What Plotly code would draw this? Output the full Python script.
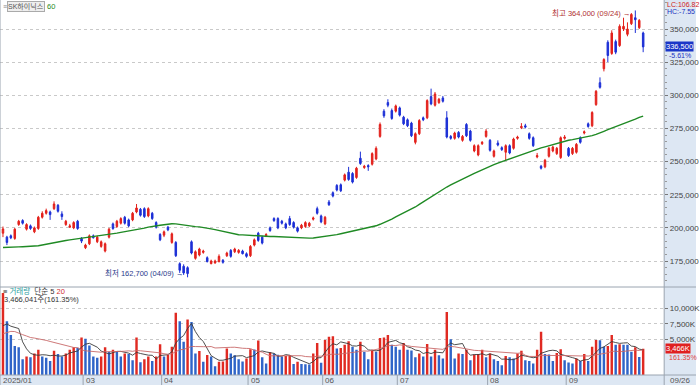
import plotly.graph_objects as go
import pandas as pd

W, H = 700, 385

holidays = ["2025-03-03", "2025-05-01", "2025-05-05", "2025-05-06",
            "2025-06-03", "2025-06-06", "2025-08-15"]
dates = [d.strftime("%Y-%m-%d") for d in pd.bdate_range("2025-01-31", "2025-09-26")
         if d.strftime("%Y-%m-%d") not in holidays]

opens = [196000,193000,194000,192000,202500,205500,199000,201500,197000,199500,
         208000,211000,212000,214500,217000,210500,202500,200500,200000,205000,
         192000,185000,188000,194000,189500,186000,182500,193000,203000,201000,
         203500,208000,206000,206000,212000,214000,214500,209000,211000,204000,
         195000,194500,200500,189000,189000,173000,171000,170000,189500,177000,
         179500,181500,177500,173000,173500,174500,175500,179000,183000,182000,
         181500,182500,180500,179000,187000,196000,193000,194000,200000,207000,
         207000,205000,203000,207000,204000,200000,200000,201000,201500,206500,
         214500,209000,203000,219500,226500,232000,232500,236000,242000,241000,
         238000,252500,245500,247000,248000,252000,269000,288000,294500,288500,
         288000,290500,283500,281500,279000,264500,271000,283000,283000,299000,
         292500,294500,298000,283000,269000,267500,272000,266000,278000,273000,
         258000,255000,263500,269000,266000,254000,264000,260500,257000,262000,
         260000,267500,275500,277000,271000,268000,253500,246500,246000,254000,
         258000,256000,253000,267500,260000,256000,257000,268000,271500,278500,
         277000,293000,309500,320000,340000,331500,340500,337500,350000,346000,
         354000,358500,351000,347000]
highs = [201000,194000,195000,200000,206000,206500,203500,202500,201000,209000,
         212500,214500,213000,220000,218000,212500,206000,203000,205000,206000,
         193000,188000,195000,195000,194000,190500,189000,200000,204000,206000,
         208000,209000,207000,212000,218000,215000,215500,215500,212000,205000,
         196000,198000,201500,196500,190000,174000,172500,171000,190500,183000,
         185000,183500,178500,176000,176000,180000,176500,182000,184000,185000,
         184000,183500,181500,187000,192000,197000,194000,196000,201000,208000,
         208000,206000,204000,209000,205000,201000,203000,205000,204500,208500,
         216000,210000,209000,221000,227500,233000,233500,241000,246000,242000,
         246000,257500,247500,248000,257000,261500,279500,289500,297000,290000,
         293000,291500,284500,282500,280000,272000,282000,284000,297000,305000,
         302500,298000,299500,288000,270000,272500,273000,270000,279000,274000,
         263000,263000,265500,274500,267000,259000,266000,261500,263000,263000,
         268000,269500,279000,278500,272000,269000,256500,247500,252000,261000,
         262000,261000,269000,270000,261000,261000,264000,269000,273500,279500,
         288000,304000,313500,328000,341500,349000,342000,353500,358500,355000,
         362000,364000,357500,348000]
lows = [193000,187000,191500,191000,201500,202500,198000,198500,196000,198500,
        207000,210000,206000,213500,211500,206000,201500,200000,199000,198500,
        188500,184000,187000,192000,188500,185000,181500,192000,198500,200000,
        202500,202500,200500,205000,211000,208500,207500,208000,206000,199500,
        190000,193000,197500,188000,178000,166000,164500,162700,180000,176000,
        178500,180500,174000,172500,173000,174000,173000,178000,177500,181000,
        180500,180000,177500,178000,186000,189500,187500,193000,197000,204500,
        199000,202500,199000,201500,199500,196500,199000,200000,200500,205500,
        210000,203500,202000,216500,223000,227500,227000,235000,235500,233500,
        237000,247500,244500,243000,247000,251000,268000,283000,291000,281500,
        287000,284000,277500,276000,268500,263000,270000,280500,282000,292500,
        291500,293500,294500,267500,266500,266500,267500,265000,268500,265000,
        257000,254000,262500,268000,257500,253000,261500,258000,251000,255500,
        259000,266500,274500,275000,266500,261000,252500,244000,245000,253000,
        257000,255000,252000,266500,253500,255000,256000,263500,270500,275500,
        276000,292000,305000,318000,325000,330500,331000,336500,348500,344500,
        353000,347000,350000,332500]
closes = [199200,189000,192500,199000,205000,203500,202500,199500,200000,208000,
          211000,213000,210000,218000,212500,208500,205000,201500,204000,199500,
          190000,187000,194000,192500,193000,189500,188000,199000,199500,205000,
          207000,203500,201500,211000,215000,209500,208500,214500,207000,200500,
          191000,197000,198500,195500,179000,168000,166000,165500,181000,182000,
          184000,182500,174500,175000,175000,178500,174000,181000,178500,184000,
          183000,180500,178500,186000,191000,190500,188500,195000,198000,205500,
          200000,203500,200000,202500,200500,197500,202000,204000,203500,207500,
          211000,204500,208000,217500,224000,228500,228000,240000,236500,234500,
          245000,248500,246500,246000,256000,260000,278000,284500,292500,282500,
          292000,285000,278500,277000,269500,271000,281000,281500,296000,293500,
          301000,297000,295500,268500,267500,271500,268500,269000,269500,266000,
          262000,262000,264500,273000,258500,258000,262500,259000,262000,256500,
          267000,268500,276500,276000,267500,262000,254500,245000,251000,260000,
          261000,260000,268000,268500,254500,260000,263000,264500,272500,276500,
          287000,303000,306000,327000,330000,347000,332500,352000,352000,350000,
          361000,357000,356500,336500]

# closes before the window (2024-10-31 .. 2025-01-24), feed the 60-day average
hist_close = [190000,
              185000,190000,193000,195000,197000,195000,190000,184000,178000,175000,
              177000,178000,180000,179000,176000,175000,178000,176000,172000,170000,168000,
              166000,167000,168000,170000,168000,165000,167000,170000,175000,178000,
              180000,178000,176000,170000,168000,170000,172000,174000,172000,173000,
              176000,188000,196000,198000,196000,195000,200000,198000,203000,205000,
              210000,212000,218000,222000,225000,222000,221000]

volume = [12500000,7900000,5700000,3900000,3700000,1750000,2200000,2100000,2700000,3300000,
          2200000,2000000,1500000,3150000,2600000,2200000,2700000,3300000,3700000,3650000,
          5300000,5100000,4000000,2200000,2000000,2200000,3700000,3000000,3300000,3000000,
          2200000,2700000,2600000,1600000,5300000,1300000,1750000,2200000,1500000,2200000,
          4200000,2200000,2450000,3800000,9300000,7900000,4600000,8200000,7800000,2700000,
          3100000,1360000,2450000,2200000,650000,1360000,1400000,3500000,2700000,2400000,
          1750000,1400000,1900000,3400000,3350000,4800000,2100000,1100000,2900000,2700000,
          2500000,2200000,2300000,2400000,1000000,1360000,1000000,950000,900000,2700000,
          4400000,1200000,4900000,5400000,5500000,3500000,3600000,4100000,4700000,3800000,
          3300000,4600000,3000000,1750000,3300000,3000000,5200000,5300000,5700000,4100000,
          3800000,3300000,4400000,3300000,3200000,2100000,2700000,2200000,4250000,2200000,
          3300000,2400000,1900000,9400000,5000000,1900000,2700000,2600000,3300000,1600000,
          2500000,2600000,3300000,2100000,2700000,1750000,1500000,800000,2300000,2100000,
          1900000,2700000,3150000,1600000,1500000,1100000,3300000,6200000,2600000,2550000,
          1500000,2800000,3400000,1600000,1250000,1100000,1900000,1500000,2600000,1500000,
          3800000,4900000,4850000,3800000,3900000,5700000,4100000,4200000,4100000,4100000,
          3000000,3700000,2148150,3466041]

# volumes before the window (2024-12-27 .. 2025-01-24), feed the 5/20-day averages
hist_volume = [3000000,2800000,4500000,7500000,8000000,6500000,7000000,4500000,5000000,
               5500000,4500000,5000000,6500000,5500000,6000000,6500000,7500000,5000000,4500000]

month_ticks = ["2025-01-31", "2025-03-04", "2025-04-01", "2025-05-02",
               "2025-06-02", "2025-07-01", "2025-08-01", "2025-09-01"]
month_labels = ["2025/01", "03", "04", "05", "06", "07", "08", "09"]

price_ticks = [175000, 200000, 225000, 250000, 275000, 300000, 325000, 350000]
vol_ticks = [5000000, 7500000, 10000000]
vol_tick_labels = ["5,000K", "7,500K", "10,000K"]

RED = "#e3201b"
BLUE = "#1c2fd6"
VRED = "#e02a22"
VBLUE = "#2f64c8"
GREEN = "#1f8a24"
STRIP = "#dde7f3"
FONT = "Liberation Sans, Noto Sans CJK KR, sans-serif"

n = len(dates)
ma60 = pd.Series(hist_close + closes).rolling(60).mean().iloc[len(hist_close):].tolist()
vser = pd.Series(hist_volume + volume)
vma5 = vser.rolling(5).mean().iloc[len(hist_volume):].tolist()
vma20 = vser.rolling(20).mean().iloc[len(hist_volume):].tolist()
prev_v = [hist_volume[-1]] + volume[:-1]
vcolors = [VRED if v > p else VBLUE for v, p in zip(volume, prev_v)]

XR = [-0.76, 168.35]
P_RANGE = [156142, 370364]
V_RANGE = [-780000, 13300000]

fig = go.Figure()
fig.add_trace(go.Candlestick(
    x=dates, open=opens, high=highs, low=lows, close=closes,
    increasing=dict(line=dict(color=RED, width=1), fillcolor=RED),
    decreasing=dict(line=dict(color=BLUE, width=1), fillcolor=BLUE),
    whiskerwidth=0, xaxis="x", yaxis="y", showlegend=False, hoverinfo="skip"))
fig.add_trace(go.Scatter(x=dates, y=ma60, mode="lines",
                         line=dict(color=GREEN, width=1.4), xaxis="x", yaxis="y",
                         showlegend=False, hoverinfo="skip"))
vbase = V_RANGE[0]
fig.add_trace(go.Bar(x=dates, y=[v - vbase for v in volume], base=vbase,
                     marker=dict(color=vcolors, line=dict(width=0)),
                     xaxis="x2", yaxis="y2", showlegend=False, hoverinfo="skip"))
fig.add_trace(go.Scatter(x=dates, y=vma5, mode="lines",
                         line=dict(color="#3a3a3a", width=0.9), xaxis="x2", yaxis="y2",
                         showlegend=False, hoverinfo="skip"))
fig.add_trace(go.Scatter(x=dates, y=vma20, mode="lines",
                         line=dict(color="#c86a6a", width=0.9), xaxis="x2", yaxis="y2",
                         showlegend=False, hoverinfo="skip"))

XD = 668 / W
def py(px):
    return 1 - px / H

fig.update_layout(
    width=W, height=H, margin=dict(l=0, r=0, t=0, b=0),
    paper_bgcolor="white", plot_bgcolor="white",
    font=dict(family=FONT, size=8, color="#333333"),
    boxgap=0.45, bargap=0.38, hovermode=False,
    xaxis=dict(domain=[0, XD], type="category", range=XR, anchor="y",
               showticklabels=False, showgrid=False, zeroline=False,
               rangeslider=dict(visible=False), fixedrange=True),
    xaxis2=dict(domain=[0, XD], type="category", range=XR, anchor="y2", matches="x",
                showticklabels=False, showgrid=False, zeroline=False),
    yaxis=dict(domain=[py(286), py(2)], range=P_RANGE, side="right", anchor="x",
               tickvals=price_ticks, tickformat=",d", ticks="outside", ticklen=3,
               tickcolor="#777", showgrid=True, gridcolor="#c9c9c9", griddash="dot",
               gridwidth=1, zeroline=False, showline=False,
               tickfont=dict(size=8, color="#444"),
               minor=dict(ticks="outside", ticklen=2, dtick=5000, tickcolor="#999",
                          showgrid=False)),
    yaxis2=dict(domain=[py(375), py(288)], range=V_RANGE, side="right", anchor="x2",
                tickvals=vol_ticks, ticktext=vol_tick_labels, ticks="outside", ticklen=3,
                tickcolor="#777", showgrid=True, gridcolor="#c9c9c9", griddash="dot",
                zeroline=False, showline=False, tickfont=dict(size=8, color="#444")),
)

shapes = [
    dict(type="rect", xref="paper", yref="paper", x0=XD, x1=1, y0=0, y1=1,
         fillcolor=STRIP, line=dict(width=0), layer="below"),
    dict(type="rect", xref="paper", yref="paper", x0=0, x1=1, y0=0, y1=py(375),
         fillcolor=STRIP, line=dict(width=0), layer="below"),
    dict(type="line", xref="paper", yref="paper", x0=XD, x1=XD, y0=0, y1=1,
         line=dict(color="#9aa4b0", width=1)),
    dict(type="line", xref="paper", yref="paper", x0=0, x1=1, y0=py(287), y1=py(287),
         line=dict(color="#9aa4b0", width=1)),
    dict(type="line", xref="paper", yref="paper", x0=0, x1=1, y0=py(375), y1=py(375),
         line=dict(color="#9aa4b0", width=1)),
    dict(type="line", xref="paper", yref="paper", x0=0, x1=0, y0=0, y1=1,
         line=dict(color="#9aa4b0", width=1)),
]
for d in month_ticks[1:]:
    i = dates.index(d)
    shapes.append(dict(type="line", xref="x2", yref="paper", x0=i - 0.6, x1=i - 0.6,
                       y0=0, y1=py(375), line=dict(color="#9aa4b0", width=1)))
fig.update_layout(shapes=shapes)

ann = []
for d, lab in zip(month_ticks, month_labels):
    i = dates.index(d)
    ann.append(dict(x=i - 0.4 if i else -0.6, y=py(380), xref="x2", yref="paper", text=lab,
                    showarrow=False, xanchor="left", yanchor="middle",
                    font=dict(size=8, color="#555")))
ann.append(dict(x=672 / W, y=py(380), xref="paper", yref="paper",
                text=dates[-1][5:7] + "/" + dates[-1][8:10], showarrow=False,
                xanchor="left", yanchor="middle", font=dict(size=8, color="#555")))

# header
ann.append(dict(x=1 / W, y=py(6), xref="paper", yref="paper", text="≡", showarrow=False,
                xanchor="left", yanchor="middle", font=dict(size=7, color="#888")))
ann.append(dict(x=7 / W, y=py(6), xref="paper", yref="paper", text="SK하이닉스",
                showarrow=False, xanchor="left", yanchor="middle",
                font=dict(size=7, color="#555"), bgcolor="#eeeeee",
                bordercolor="#aaaaaa", borderwidth=1, borderpad=0))
ann.append(dict(x=45 / W, y=py(6), xref="paper", yref="paper", text="60", showarrow=False,
                xanchor="left", yanchor="middle", font=dict(size=7.5, color=GREEN)))
ann.append(dict(x=669 / W, y=py(4), xref="paper", yref="paper", text="LC:106.82",
                showarrow=False, xanchor="left", yanchor="middle",
                font=dict(size=7, color="#d02020")))
ann.append(dict(x=669 / W, y=py(11.5), xref="paper", yref="paper", text="HC:-7.55",
                showarrow=False, xanchor="left", yanchor="middle",
                font=dict(size=7, color="#2030c0")))

# last price marker
chg = (closes[-1] / closes[-2] - 1) * 100
ann.append(dict(x=XD, y=closes[-1], xref="paper", yref="y", text=f"{closes[-1]:,}",
                showarrow=False, xanchor="left", yanchor="middle",
                font=dict(size=7.5, color="white"), bgcolor="#1a36c8", borderpad=0,
                xshift=1))
ann.append(dict(x=XD, y=closes[-1], xref="paper", yref="y", text=f"{chg:.2f}%",
                showarrow=False, xanchor="left", yanchor="middle", yshift=-8.5,
                font=dict(size=7, color="#2030c0"), xshift=3))

# high / low labels
hi = max(highs); ih = highs.index(hi)
lo = min(lows); il = lows.index(lo)
ann.append(dict(x=ih, y=hi, xref="x", yref="y",
                text=f"최고 {hi:,} ({dates[ih][5:7]}/{dates[ih][8:10]}) →",
                showarrow=False, xanchor="right", yanchor="middle", xshift=-3, yshift=-3,
                font=dict(size=7.5, color="#b03030")))
ann.append(dict(x=il, y=lo, xref="x", yref="y",
                text=f"최저 {lo:,} ({dates[il][5:7]}/{dates[il][8:10]}) →",
                showarrow=False, xanchor="right", yanchor="middle", xshift=-3, yshift=4,
                font=dict(size=7.5, color="#2a3a8a")))

# volume legend
ratio = volume[-1] / volume[-2] * 100
ann.append(dict(x=1 / W, y=py(291), xref="paper", yref="paper",
                text="≡ <span style='color:#2aa0a0'>거래량</span>  단순 5 "
                     "<span style='color:#d03030'>20</span>",
                showarrow=False, xanchor="left", yanchor="middle",
                font=dict(size=7.5, color="#333")))
ann.append(dict(x=2 / W, y=py(299), xref="paper", yref="paper",
                text=f"{volume[-1]:,}주({ratio:.2f}%)", showarrow=False,
                xanchor="left", yanchor="middle", font=dict(size=7.5, color="#333")))
ann.append(dict(x=XD, y=volume[-1], xref="paper", yref="y2",
                text=f"{volume[-1] / 1000:,.0f}K", showarrow=False, xanchor="left",
                yanchor="middle", font=dict(size=7.5, color="white"), bgcolor="#e02020",
                borderpad=0, xshift=1))
ann.append(dict(x=XD, y=volume[-1], xref="paper", yref="y2", text=f"{ratio:.2f}%",
                showarrow=False, xanchor="left", yanchor="middle", yshift=-8.5, xshift=3,
                font=dict(size=7, color="#e04040")))
fig.update_layout(annotations=ann)

fig.write_html("out.html", config={"displayModeBar": False, "staticPlot": True},
               post_script="document.body.style.margin='0';"
                           "document.body.style.overflow='hidden';")
